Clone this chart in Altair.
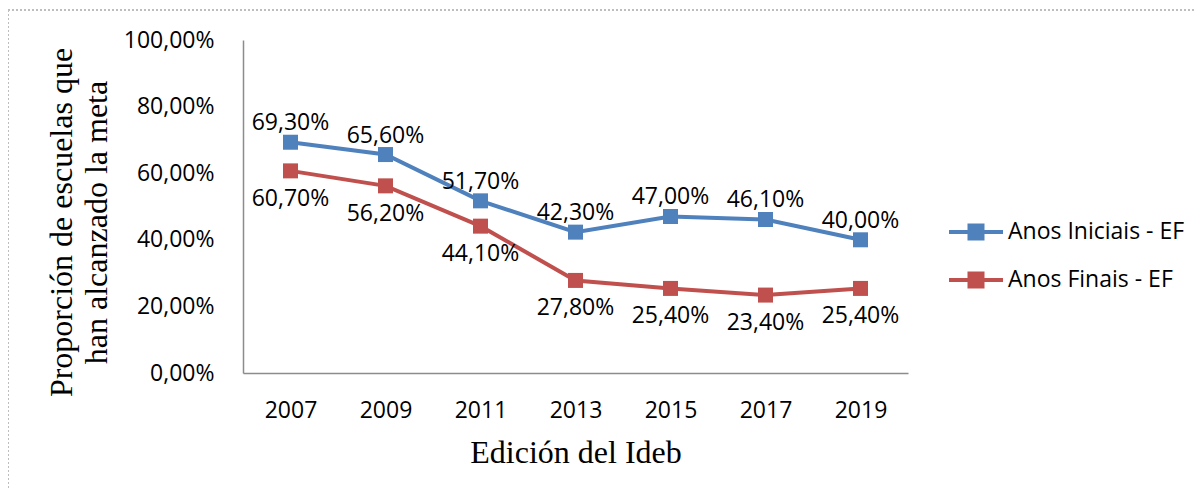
import altair as alt
import pandas as pd

years = ["2007", "2009", "2011", "2013", "2015", "2017", "2019"]
iniciais = [69.3, 65.6, 51.7, 42.3, 47.0, 46.1, 40.0]
finais = [60.7, 56.2, 44.1, 27.8, 25.4, 23.4, 25.4]
series_names = ["Anos Iniciais - EF", "Anos Finais - EF"]
series_colors = ["#4F81BD", "#C0504D"]
y_ticks = [0, 20, 40, 60, 80, 100]

rows = []
for yr, a, b in zip(years, iniciais, finais):
    rows.append({"ano": yr, "valor": a, "serie": series_names[0]})
    rows.append({"ano": yr, "valor": b, "serie": series_names[1]})
df = pd.DataFrame(rows)

SANS = "Open Sans"
SERIF = "Liberation Serif"
FS = 23

# legend glyph: horizontal line with a square marker in the middle
legend_path = ("M-1,-0.074H1V0.074H-1Z "
               "M-0.315,-0.315H0.315V0.315H-0.315Z")

legend = alt.Legend(
    title=None,
    orient="none",
    legendX=706,
    legendY=180.5,
    symbolType=legend_path,
    symbolSize=2916,
    symbolStrokeWidth=0,
    symbolOpacity=1,
    labelFont=SANS,
    labelFontSize=FS,
    labelColor="black",
    labelOffset=5,
    labelLimit=400,
    clipHeight=23,
    rowPadding=24,
    padding=0,
)

color = alt.Color(
    "serie:N",
    scale=alt.Scale(domain=series_names, range=series_colors),
    legend=legend,
)

x_enc = alt.X(
    "ano:O",
    sort=years,
    scale=alt.Scale(type="point", padding=0.5),
    axis=alt.Axis(
        title="Edición del Ideb",
        titleFont=SERIF,
        titleFontSize=32,
        titleFontWeight="normal",
        titleColor="black",
        titleBaseline="alphabetic",
        titleY=89,
        labelFont=SANS,
        labelFontSize=FS,
        labelColor="black",
        labelAngle=0,
        labelPadding=26,
        ticks=False,
        tickSize=0,
        domainColor="#8c8c8c",
        domainWidth=1.5,
        grid=False,
    ),
)

y_enc = alt.Y(
    "valor:Q",
    scale=alt.Scale(domain=[0, 100], nice=False, zero=True),
    axis=alt.Axis(
        title=["Proporción de escuelas que", "han alcanzado la meta"],
        titleFont=SERIF,
        titleFontSize=32,
        titleFontWeight="normal",
        titleColor="black",
        titleLineHeight=35,
        titleAngle=270,
        titleAlign="center",
        titleBaseline="top",
        titleX=-197,
        titleY=182,
        values=y_ticks,
        labelExpr="replace(format(datum.value, '.2f'), '.', ',') + '%'",
        labelFont=SANS,
        labelFontSize=FS,
        labelColor="black",
        labelPadding=29,
        ticks=False,
        tickSize=0,
        domainColor="#8c8c8c",
        domainWidth=1.5,
        grid=False,
    ),
)

base = alt.Chart(df).encode(x=x_enc, y=y_enc)

lines = base.mark_line(strokeWidth=4).encode(color=color, detail="serie:N")

points = base.mark_point(shape="square", filled=True, size=225, opacity=1).encode(
    color=color
)

fmt = "replace(format(datum.valor, '.2f'), '.', ',') + '%'"

labels_top = base.transform_filter(
    alt.datum.serie == series_names[0]
).transform_calculate(lbl=fmt).mark_text(
    font=SANS, fontSize=FS, color="black", baseline="middle", dy=-19
).encode(text="lbl:N")

labels_bot = base.transform_filter(
    alt.datum.serie == series_names[1]
).transform_calculate(lbl=fmt).mark_text(
    font=SANS, fontSize=FS, color="black", baseline="middle", dy=28
).encode(text="lbl:N")

# decorative dotted frame of the chart area (top and left edges)
frame_top = alt.Chart(df).mark_rule(
    color="#bfbfbf", strokeDash=[2, 2], strokeWidth=1.5
).encode(x=alt.value(-235), x2=alt.value(960), y=alt.value(-30))
frame_left = alt.Chart(df).mark_rule(
    color="#bfbfbf", strokeDash=[2, 2], strokeWidth=1.5
).encode(x=alt.value(-235), y=alt.value(-30), y2=alt.value(450))

chart = alt.layer(
    frame_top, frame_left, lines, points, labels_top, labels_bot
).properties(
    width=665,
    height=333,
    background="white",
    autosize=alt.AutoSizeParams(type="none"),
    padding={"left": 235, "top": 32, "right": 286, "bottom": 123},
).configure_view(
    strokeWidth=0,
    stroke="transparent",
)

chart.save("out.html", embed_options={"renderer": "svg", "actions": False})
